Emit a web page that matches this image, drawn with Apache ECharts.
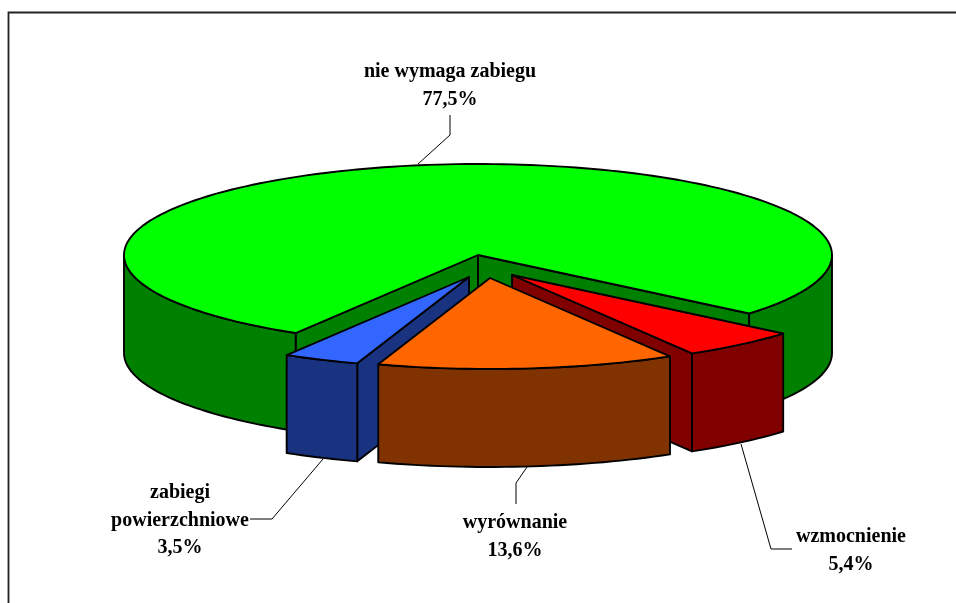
<!DOCTYPE html>
<html>
<head>
<meta charset="utf-8">
<style>html,body{margin:0;padding:0;background:#fff}#c{width:956px;height:603px}</style>
<script src="https://cdn.jsdelivr.net/npm/echarts@6/dist/echarts.min.js"></script>
</head>
<body>
<div id="c"></div>
<script>
// Data, clockwise from the green slice
const categories = ['nie wymaga zabiegu', 'wzmocnienie', 'wyrównanie', 'zabiegi\npowierzchniowe'];
const shares = [77.5, 5.4, 13.6, 3.5];

// Styles
const topColors = ['#00ff00', '#ff0000', '#ff6600', '#3366ff'];
const sideColors = ['#008000', '#800000', '#803300', '#1a3380'];

// Layout of the 3D pie
const CX = 478, CY = 255, RX = 354, RY = 91, DEPTH = 98;
const START_DEG = 121;
const explodeOffsets = [[0, 0], [34, 20], [12, 23], [-9, 22]];
const paintOrder = [0, 1, 3, 2];
const labelAnchors = [[450, 72], [851, 537], [515, 523], [180, 493]];
const leaderLines = [
  [[450, 115], [450, 135], [418, 164]],
  [[741, 444], [771, 549], [792, 549]],
  [[516, 504], [516, 483], [527, 467]],
  [[250, 519], [272, 519], [323, 459]]
];

const total = shares.reduce((a, b) => a + b, 0);
const rad = d => d * Math.PI / 180;

function arcPoints(a0, a1, ox, oy, dz) {
  const n = Math.max(2, Math.ceil(Math.abs(a1 - a0) / 1.5));
  const pts = [];
  for (let i = 0; i <= n; i++) {
    const a = rad(a0 + (a1 - a0) * i / n);
    pts.push([CX + ox + RX * Math.cos(a), CY + oy + RY * Math.sin(a) + dz]);
  }
  return pts;
}
const stroke = { stroke: '#000', lineWidth: 1.9, lineJoin: 'round' };

function renderItem(params, api) {
  const i = params.dataIndex;
  let cum = 0;
  for (let k = 0; k < i; k++) cum += shares[k];
  const a0 = START_DEG + cum / total * 360;
  const a1 = a0 + api.value(0) / total * 360;
  const [ox, oy] = explodeOffsets[i];
  const z = paintOrder[i] * 10;
  const children = [];
  const poly = (points, fill, zz) => children.push({
    type: 'polygon', z2: z + zz, shape: { points },
    style: Object.assign({ fill }, stroke)
  });
  const apex = [CX + ox, CY + oy];
  const apexLow = [apex[0], apex[1] + DEPTH];
  const rim0 = arcPoints(a0, a0, ox, oy, 0)[0];
  const rim1 = arcPoints(a1, a1, ox, oy, 0)[0];
  // cut walls facing the viewer
  if (i === 0) {
    poly([apex, rim0, [rim0[0], rim0[1] + DEPTH], apexLow], sideColors[i], 0);
    poly([apex, rim1, [rim1[0], rim1[1] + DEPTH], apexLow], sideColors[i], 0);
  } else if (i === 1) {
    poly([apex, rim1, [rim1[0], rim1[1] + DEPTH], apexLow], sideColors[i], 0);
  } else if (i === 3) {
    poly([apex, rim0, [rim0[0], rim0[1] + DEPTH], apexLow], sideColors[i], 0);
  }
  // outer side: only the part below the horizon is visible
  const sides = [];
  for (let base = -360; base <= 360; base += 360) {
    const s = Math.max(a0, base), e = Math.min(a1, base + 180);
    if (e > s) sides.push([s, e]);
  }
  sides.forEach(([s, e]) => {
    const up = arcPoints(s, e, ox, oy, 0);
    const low = arcPoints(e, s, ox, oy, DEPTH);
    poly(up.concat(low), sideColors[i], 1);
  });
  // top face
  poly([apex].concat(arcPoints(a0, a1, ox, oy, 0)), topColors[i], 2);
  // leader line
  children.push({
    type: 'polyline', z2: 100, shape: { points: leaderLines[i] },
    style: { stroke: '#000', lineWidth: 1, fill: null }
  });
  // label
  const lines = categories[i].split('\n').concat([String(api.value(0)).replace('.', ',') + '%']);
  lines.forEach((t, k) => children.push({
    type: 'text', z2: 101,
    x: labelAnchors[i][0], y: labelAnchors[i][1] + k * 27.5,
    style: {
      text: t, fill: '#000', align: 'center', verticalAlign: 'middle',
      font: 'bold 20px "Liberation Serif", serif'
    }
  }));
  return { type: 'group', children };
}

const chart = echarts.init(document.getElementById('c'), null, { renderer: 'canvas' });
chart.setOption({
  animation: false,
  backgroundColor: '#fff',
  graphic: [
    { type: 'polyline', silent: true, z: 0,
      shape: { points: [[8.5, 603], [8.5, 12.5], [956, 12.5]] },
      style: { stroke: '#222', lineWidth: 1.8, fill: null } }
  ],
  series: [{
    type: 'custom',
    coordinateSystem: 'none',
    renderItem,
    silent: true,
    clip: false,
    data: shares.map((v, i) => ({ name: categories[i], value: [v] }))
  }]
});
</script>
</body>
</html>
